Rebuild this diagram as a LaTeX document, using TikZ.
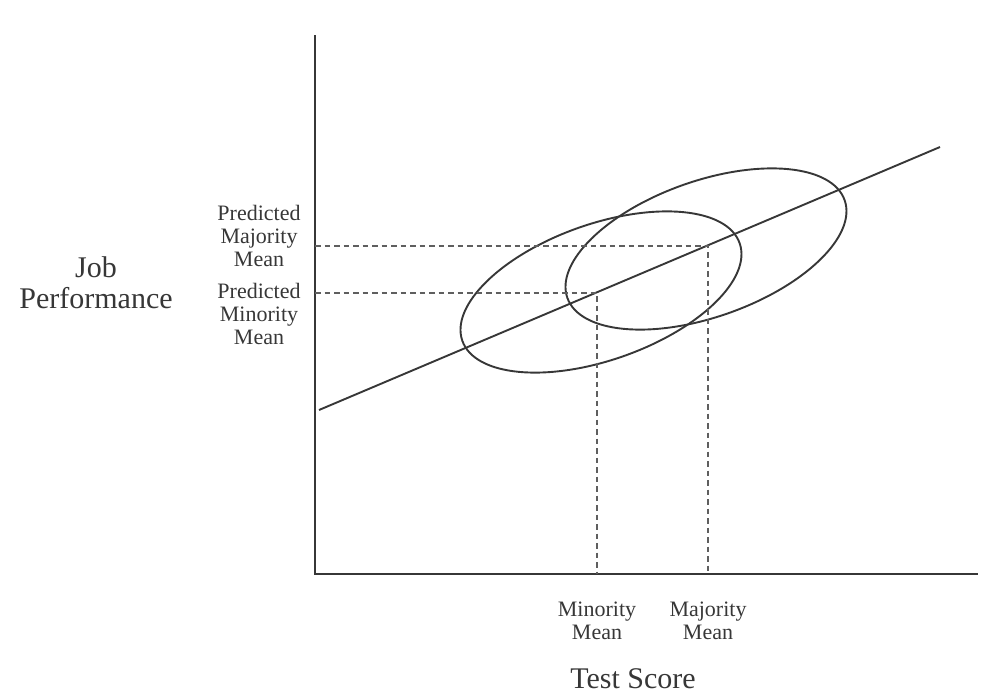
\documentclass[tikz,border=0pt]{standalone}
\usepackage{fontspec}
\setmainfont{Liberation Serif}
\definecolor{ink}{RGB}{55,55,55}
\definecolor{guideink}{RGB}{95,95,95}
\tikzset{
  axisline/.style={draw=ink, line width=2pt},
  curveline/.style={draw=ink, line width=1.9pt},
  guideline/.style={draw=guideink, line width=1.2pt, dash pattern=on 5.5pt off 4pt},
  smalllabel/.style={font=\fontsize{22}{22.8}\selectfont, align=center, text=ink, inner sep=0pt},
  biglabel/.style={font=\fontsize{30}{31}\selectfont, align=center, text=ink, inner sep=0pt}
}
\begin{document}
\begin{tikzpicture}[x=1pt,y=-1pt]
\useasboundingbox (0,0) rectangle (982,697);
% axes
\coordinate (top) at (315,35);
\coordinate (origin) at (315,574);
\coordinate (right) at (978,574);
\draw[axisline] (top) -- (origin) -- (right);
% regression line
\coordinate (regA) at (319,410);
\coordinate (regB) at (940,147);
\draw[curveline] (regA) -- (regB);
% ellipses
\coordinate (minC) at (601,292);
\coordinate (majC) at (706,249);
\draw[curveline, rotate around={19.4:(minC)}] (minC) ellipse [x radius=147pt, y radius=68pt];
\draw[curveline, rotate around={19.4:(majC)}] (majC) ellipse [x radius=147pt, y radius=68pt];
% means
\coordinate (minM) at (597,293);
\coordinate (majM) at (708,246);
\draw[guideline] (minM -| origin) -- (minM) -- (minM |- origin);
\draw[guideline] (majM -| origin) -- (majM) -- (majM |- origin);
% labels
\node[biglabel] (jp) at (96,283) {Job\\Performance};
\node[smalllabel] (pmaj) at (259,236) {Predicted\\Majority\\Mean};
\node[smalllabel] (pmin) at (259,314) {Predicted\\Minority\\Mean};
\node[smalllabel] (minl) at (597,621) {Minority\\Mean};
\node[smalllabel] (majl) at (708,621) {Majority\\Mean};
\node[biglabel, anchor=base] (ts) at (633,688) {Test Score};
\end{tikzpicture}
\end{document}
